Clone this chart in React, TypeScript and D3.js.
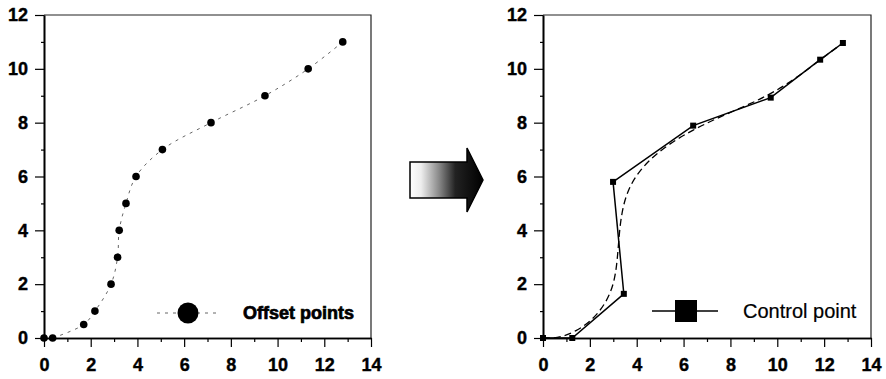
import React, { useRef, useEffect } from 'react';
import * as d3 from 'd3';

// offset points (left panel)
const offsetX = [0, 0.37, 1.7, 2.18, 2.87, 3.15, 3.22, 3.51, 3.94, 5.07, 7.15, 9.46, 11.31, 12.79];
const offsetY = [0, 0, 0.5, 1, 2, 3, 4, 5, 6, 7, 8, 9, 10, 11];

// control points (right panel)
const controlX = [0, 1.25, 3.45, 2.99, 6.41, 9.72, 11.83, 12.8];
const controlY = [0, 0, 1.64, 5.8, 7.89, 8.93, 10.34, 10.96];

const majorTicks = [0, 2, 4, 6, 8, 10, 12, 14];
const minorTicksX = [1, 3, 5, 7, 9, 11, 13];
const majorTicksY = [0, 2, 4, 6, 8, 10, 12];
const minorTicksY = [1, 3, 5, 7, 9, 11];

const FONT = '"Liberation Sans", Arial, sans-serif';

const App = () => {
  const svgRef = useRef(null);

  useEffect(() => {
    const svg = d3.select(svgRef.current);
    svg.selectAll('*').remove();

    const defs = svg.append('defs');
    const grad = defs
      .append('linearGradient')
      .attr('id', 'arrowGrad')
      .attr('x1', '0%')
      .attr('x2', '100%');
    grad.append('stop').attr('offset', '0%').attr('stop-color', '#fff');
    grad.append('stop').attr('offset', '15%').attr('stop-color', '#eee');
    grad.append('stop').attr('offset', '40%').attr('stop-color', '#888');
    grad.append('stop').attr('offset', '62%').attr('stop-color', '#222');
    grad.append('stop').attr('offset', '100%').attr('stop-color', '#000');

    // draw one panel frame + axes, returns scales
    const panel = (left, right) => {
      const top = 15;
      const bottom = 338;
      const x = d3.scaleLinear().domain([0, 14]).range([left, right]);
      const y = d3.scaleLinear().domain([0, 12]).range([bottom, top]);

      // frame on top and right
      svg
        .append('path')
        .attr('d', `M${left},${top}H${right}V${bottom}`)
        .attr('fill', 'none')
        .attr('stroke', '#222')
        .attr('stroke-width', 1.2);

      const styleAxis = (g) => {
        g.select('.domain').attr('stroke', '#000').attr('stroke-width', 1.6);
        g.selectAll('.tick line').attr('stroke', '#000').attr('stroke-width', 1.2);
        g.selectAll('text')
          .attr('font-family', FONT)
          .attr('font-size', 18)
          .attr('font-weight', 'bold')
          .attr('fill', '#000')
          .attr('stroke', '#000')
          .attr('stroke-width', 0.4);
      };

      svg
        .append('g')
        .attr('transform', `translate(0,${bottom})`)
        .call(d3.axisBottom(x).tickValues(minorTicksX).tickSize(4).tickSizeOuter(0).tickFormat(() => ''))
        .call(styleAxis);
      svg
        .append('g')
        .attr('transform', `translate(0,${bottom})`)
        .call(d3.axisBottom(x).tickValues(majorTicks).tickSize(9).tickPadding(11).tickSizeOuter(0))
        .call(styleAxis);

      svg
        .append('g')
        .attr('transform', `translate(${left},0)`)
        .call(d3.axisLeft(y).tickValues(minorTicksY).tickSize(3).tickSizeOuter(0).tickFormat(() => ''))
        .call(styleAxis);
      svg
        .append('g')
        .attr('transform', `translate(${left},0)`)
        .call(d3.axisLeft(y).tickValues(majorTicksY).tickSize(9).tickPadding(7).tickSizeOuter(0))
        .call(styleAxis);

      return { x, y };
    };

    // left panel
    const L = panel(44, 371);
    const offsetPts = offsetX.map((v, i) => [v, offsetY[i]]);
    const lineL = d3
      .line()
      .x((d) => L.x(d[0]))
      .y((d) => L.y(d[1]))
      .curve(d3.curveCatmullRom);
    svg
      .append('path')
      .attr('d', lineL(offsetPts.slice(1)))
      .attr('fill', 'none')
      .attr('stroke', '#555')
      .attr('stroke-width', 0.9)
      .attr('stroke-dasharray', '3,5');
    svg
      .append('g')
      .selectAll('circle')
      .data(offsetPts)
      .enter()
      .append('circle')
      .attr('cx', (d) => L.x(d[0]))
      .attr('cy', (d) => L.y(d[1]))
      .attr('r', 3.8)
      .attr('fill', '#000');

    // left legend
    svg
      .append('line')
      .attr('x1', 157)
      .attr('x2', 220)
      .attr('y1', 313)
      .attr('y2', 313)
      .attr('stroke', '#555')
      .attr('stroke-width', 0.9)
      .attr('stroke-dasharray', '3,5');
    svg.append('circle').attr('cx', 188).attr('cy', 313).attr('r', 10.5).attr('fill', '#000');
    svg
      .append('text')
      .attr('x', 243)
      .attr('y', 319)
      .attr('font-family', FONT)
      .attr('font-size', 18)
      .attr('font-weight', 'bold')
      .attr('stroke', '#000')
      .attr('stroke-width', 0.7)
      .text('Offset points');

    // arrow
    svg
      .append('polygon')
      .attr('points', '410,162 467,162 467,148 483,180 467,212 467,198 410,198')
      .attr('fill', 'url(#arrowGrad)')
      .attr('stroke', '#000')
      .attr('stroke-width', 1.5);

    // right panel
    const R = panel(543, 871);
    const ctrlPts = controlX.map((v, i) => [v, controlY[i]]);
    const basis = d3
      .line()
      .x((d) => R.x(d[0]))
      .y((d) => R.y(d[1]))
      .curve(d3.curveBasis);
    svg
      .append('path')
      .attr('d', basis(ctrlPts))
      .attr('fill', 'none')
      .attr('stroke', '#000')
      .attr('stroke-width', 1.3)
      .attr('stroke-dasharray', '7,4');
    const poly = d3
      .line()
      .x((d) => R.x(d[0]))
      .y((d) => R.y(d[1]));
    svg
      .append('path')
      .attr('d', poly(ctrlPts))
      .attr('fill', 'none')
      .attr('stroke', '#000')
      .attr('stroke-width', 1.5);
    svg
      .append('g')
      .selectAll('rect')
      .data(ctrlPts)
      .enter()
      .append('rect')
      .attr('x', (d) => R.x(d[0]) - 3)
      .attr('y', (d) => R.y(d[1]) - 3)
      .attr('width', 6)
      .attr('height', 6)
      .attr('fill', '#000');

    // right legend
    svg
      .append('line')
      .attr('x1', 652)
      .attr('x2', 718)
      .attr('y1', 311)
      .attr('y2', 311)
      .attr('stroke', '#000')
      .attr('stroke-width', 1.3);
    svg.append('rect').attr('x', 675).attr('y', 300).attr('width', 22).attr('height', 22).attr('fill', '#000');
    svg
      .append('text')
      .attr('x', 743)
      .attr('y', 318)
      .attr('font-family', FONT)
      .attr('font-size', 20)
      .attr('stroke', '#000')
      .attr('stroke-width', 0.2)
      .text('Control point');
  }, []);

  return (
    <svg
      ref={svgRef}
      width={886}
      height={379}
      style={{ position: 'absolute', left: 0, top: 0, background: '#fff' }}
    ></svg>
  );
};

export default App;
